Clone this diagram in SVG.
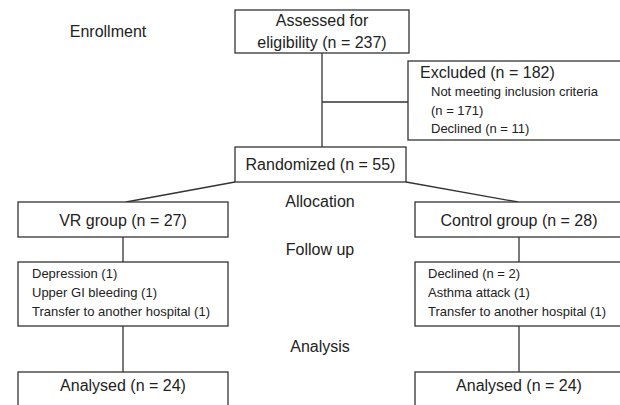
<svg xmlns="http://www.w3.org/2000/svg" width="620" height="405" viewBox="0 0 620 405">
<style>
text{font-family:"Liberation Sans",Arial,sans-serif;fill:#222;}
.b{font-size:16px;}
.s{font-size:13px;}
.m{text-anchor:middle;}
rect{fill:#fff;stroke:#333;stroke-width:1.3;}
.c line,.c polyline{stroke:#333;stroke-width:1.3;fill:none;}
</style>
<rect x="0" y="0" width="620" height="405" style="stroke:none;fill:#fff"/>
<g class="c" id="connectors">
<line x1="322" y1="53" x2="322" y2="147"/>
<line x1="322" y1="102" x2="408" y2="102"/>
<line x1="235" y1="182" x2="126" y2="202"/>
<line x1="406" y1="182" x2="518" y2="202"/>
<line x1="123" y1="237" x2="123" y2="262"/>
<line x1="519" y1="237" x2="519" y2="262"/>
<line x1="123" y1="326" x2="123" y2="372"/>
<line x1="519" y1="326" x2="519" y2="372"/>
</g>
<g id="stage-labels">
<text class="b m" x="108" y="37">Enrollment</text>
<text class="b m" x="320" y="207">Allocation</text>
<text class="b m" x="320" y="255">Follow up</text>
<text class="b m" x="320" y="352">Analysis</text>
</g>
<g id="assessed">
<rect x="235" y="10" width="174" height="43"/>
<text class="b m" x="322" y="26">Assessed for</text>
<text class="b m" x="322" y="48">eligibility (n = 237)</text>
</g>
<g id="excluded">
<rect x="408" y="61" width="216" height="79"/>
<text class="b" x="420" y="78">Excluded (n = 182)</text>
<text class="s" x="431" y="96">Not meeting inclusion criteria</text>
<text class="s" x="431" y="115">(n = 171)</text>
<text class="s" x="431" y="133">Declined (n = 11)</text>
</g>
<g id="randomized">
<rect x="235" y="147" width="171" height="35"/>
<text class="b m" x="320.5" y="170">Randomized (n = 55)</text>
</g>
<g id="vr-group">
<rect x="18" y="202" width="210" height="35"/>
<text class="b m" x="123" y="226">VR group (n = 27)</text>
</g>
<g id="control-group">
<rect x="415" y="202" width="209" height="35"/>
<text class="b m" x="519" y="226">Control group (n = 28)</text>
</g>
<g id="vr-followup">
<rect x="18" y="262" width="210" height="64"/>
<text class="s" x="32" y="278">Depression (1)</text>
<text class="s" x="32" y="297">Upper GI bleeding (1)</text>
<text class="s" x="32" y="316">Transfer to another hospital (1)</text>
</g>
<g id="control-followup">
<rect x="415" y="262" width="209" height="64"/>
<text class="s" x="428" y="278">Declined (n = 2)</text>
<text class="s" x="428" y="297">Asthma attack (1)</text>
<text class="s" x="428" y="316">Transfer to another hospital (1)</text>
</g>
<g id="vr-analysed">
<rect x="18" y="372" width="210" height="40"/>
<text class="b m" x="123" y="391">Analysed (n = 24)</text>
</g>
<g id="control-analysed">
<rect x="415" y="372" width="209" height="40"/>
<text class="b m" x="519" y="391">Analysed (n = 24)</text>
</g>
</svg>
